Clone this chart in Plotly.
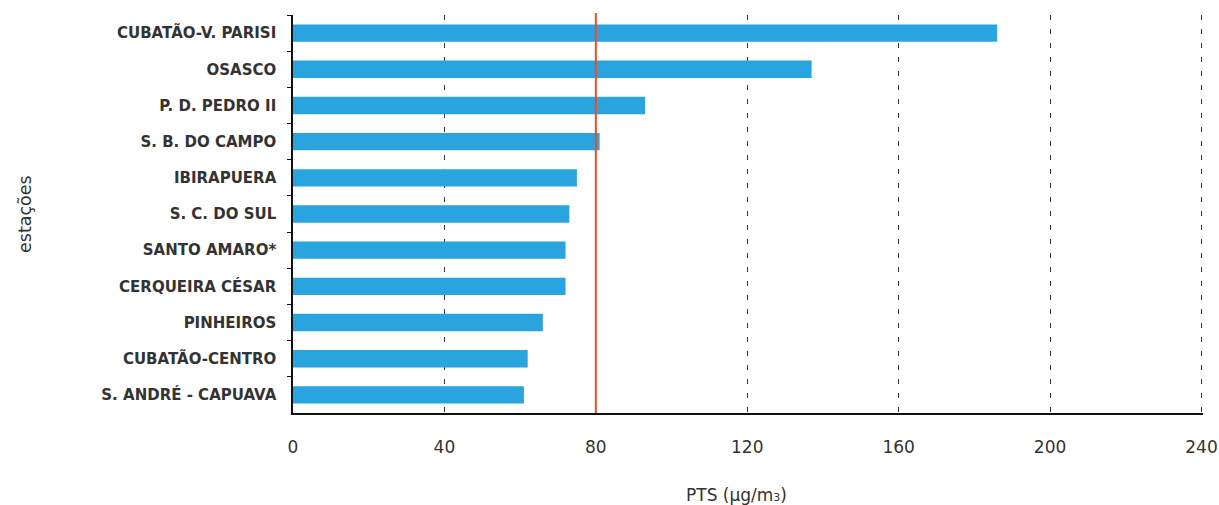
import plotly.graph_objects as go

stations = ["CUBATÃO-V. PARISI", "OSASCO", "P. D. PEDRO II", "S. B. DO CAMPO", "IBIRAPUERA",
            "S. C. DO SUL", "SANTO AMARO*", "CERQUEIRA CÉSAR", "PINHEIROS", "CUBATÃO-CENTRO",
            "S. ANDRÉ - CAPUAVA"]
pts_values = [186, 137, 93, 81, 75, 73, 72, 72, 66, 62, 61]
x_ticks = [0, 40, 80, 120, 160, 200, 240]
limit_value = 80

FONT = "DejaVu Sans"
TXT = "#333333"

fig = go.Figure()
fig.add_trace(go.Bar(
    y=stations, x=pts_values, orientation="h",
    marker=dict(color="#2aa4df", line=dict(width=0)),
    width=0.48,
))

fig.add_shape(type="line", xref="x", yref="paper", x0=limit_value, x1=limit_value,
              y0=0, y1=1.005, line=dict(color="#f04a23", width=2), layer="above")

fig.update_layout(
    width=1219, height=505,
    margin=dict(l=293, r=16, t=15, b=92, autoexpand=False),
    paper_bgcolor="white", plot_bgcolor="white",
    showlegend=False,
    font=dict(family=FONT, color=TXT),
    xaxis=dict(
        range=[0, 240.4], tickvals=x_ticks, ticktext=[str(v) for v in x_ticks],
        showgrid=True, gridcolor="#333333", griddash="5px,9px", gridwidth=1,
        zeroline=False, showline=True, linecolor="#111111", linewidth=1.5,
        ticks="", ticklabelstandoff=18, automargin=False, ticklabeloverflow="allow",
        tickfont=dict(family=FONT, size=17, color=TXT),
        fixedrange=True,
    ),
    yaxis=dict(
        autorange="reversed", categoryorder="array", categoryarray=stations,
        showgrid=False, zeroline=False, showline=True, linecolor="#111111", linewidth=1.5,
        ticks="outside", ticklen=4, tickcolor="#111111", tickson="boundaries",
        ticklabelstandoff=12, automargin=False,
        tickfont=dict(family=FONT, size=15, color=TXT, weight="bold"),
    ),
    bargap=0.5,
)

fig.add_annotation(text="PTS (μg/m<span style='font-size:11px'>3</span>)", xref="paper", yref="paper",
                   x=(736 - 293) / 910, y=-(495 - 413) / 398, xanchor="center", yanchor="middle",
                   showarrow=False, font=dict(family=FONT, size=17, color=TXT))
fig.add_annotation(text="estações", xref="paper", yref="paper",
                   x=-(293 - 25) / 910, y=(413 - 214) / 398, xanchor="center", yanchor="middle",
                   textangle=-90, showarrow=False,
                   font=dict(family=FONT, size=17.5, color=TXT))

fig.write_html("out.html", config={"displayModeBar": False},
               post_script="document.body.style.margin='0';")
